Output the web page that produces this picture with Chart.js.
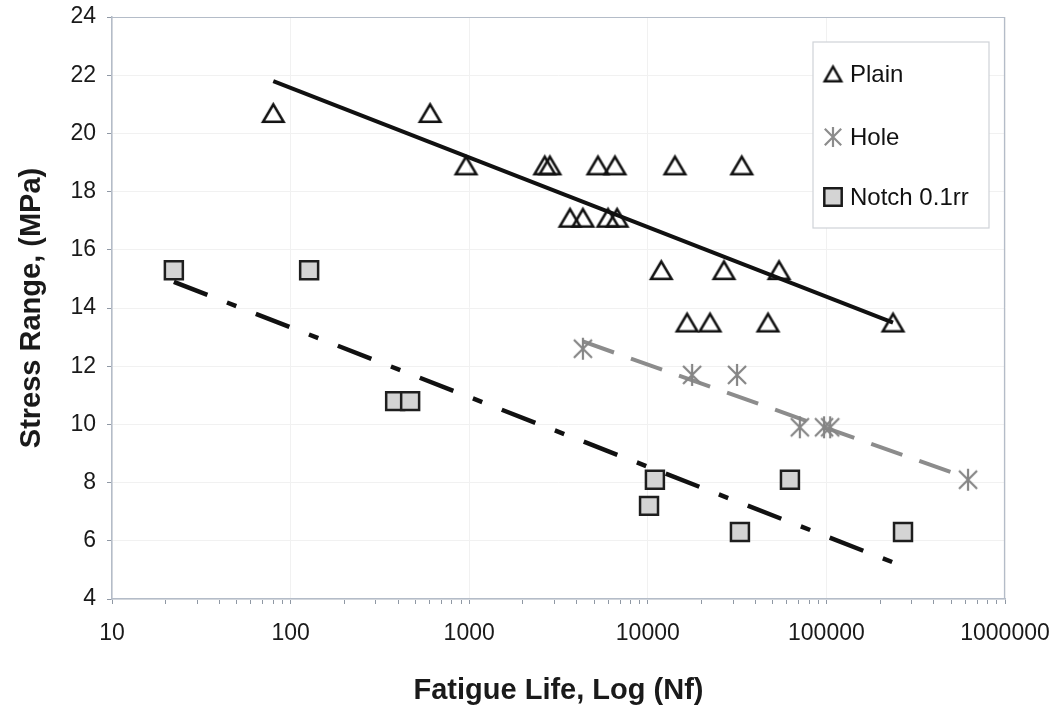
<!DOCTYPE html>
<html>
<head>
<meta charset="utf-8">
<title>Stress Range vs Fatigue Life</title>
<script src="https://cdn.jsdelivr.net/npm/chart.js@4.4.1/dist/chart.umd.min.js"></script>
<style>
  html, body { margin: 0; padding: 0; background: #ffffff; }
  #wrap { width: 1060px; height: 711px; }
</style>
</head>
<body>
<div id="wrap"><canvas id="snChart" width="1060" height="711"></canvas></div>
<script>
// Test results: cycles to failure (Nf) and applied stress range (MPa)
const plainLife   = [80, 604, 960, 2650, 2830, 5260, 6550, 14200, 33600, 3670, 4330, 5990, 6730, 11900, 26700, 54300, 16600, 22300, 47100, 236000];
const plainStress = [20.7, 20.7, 18.9, 18.9, 18.9, 18.9, 18.9, 18.9, 18.9, 17.1, 17.1, 17.1, 17.1, 15.3, 15.3, 15.3, 13.5, 13.5, 13.5, 13.5];

const holeLife   = [4330, 17700, 31600, 71000, 97000, 105000, 621000];
const holeStress = [12.6, 11.7, 11.7, 9.9, 9.9, 9.9, 8.1];

const notchLife   = [22.2, 127, 385, 467, 10960, 10160, 32800, 62500, 268500];
const notchStress = [15.3, 15.3, 10.8, 10.8, 8.1, 7.2, 6.3, 8.1, 6.3];

// Fitted S-N lines (end points)
const plainFitLife   = [80, 236000];
const plainFitStress = [21.8, 13.5];
const holeFitLife    = [4330, 621000];
const holeFitStress  = [12.85, 8.15];
const notchFitLife   = [22.2, 250000];
const notchFitStress = [14.9, 5.2];

const seriesNames = ['Plain', 'Hole', 'Notch 0.1rr'];
const lifeDecades = [10, 100, 1000, 10000, 100000, 1000000];

const FONT = "'Liberation Sans', Arial, Helvetica, sans-serif";
const AXIS_COLOR = '#b4bcc8';
const HOLE_GREY = '#858585';

Chart.defaults.font.family = FONT;
Chart.defaults.color = '#1a1a1a';

function toPoints(xs, ys) {
  return xs.map((x, i) => ({ x: x, y: ys[i] }));
}

// asterisk marker: X plus a vertical stroke
function makeAsterisk(size, color, lw) {
  const c = document.createElement('canvas');
  c.width = size; c.height = size;
  const g = c.getContext('2d');
  const h = size / 2;
  const r = h - 1;
  const d = r * 0.82;
  g.strokeStyle = color;
  g.lineWidth = lw;
  g.beginPath();
  g.moveTo(h, h - r); g.lineTo(h, h + r);
  g.moveTo(h - d, h - d); g.lineTo(h + d, h + d);
  g.moveTo(h + d, h - d); g.lineTo(h - d, h + d);
  g.stroke();
  return c;
}

// hollow triangle centred on its bounding box
function makeTriangle(w, h, color, lw) {
  const c = document.createElement('canvas');
  c.width = w + 4; c.height = h + 4;
  const g = c.getContext('2d');
  g.strokeStyle = color;
  g.lineWidth = lw;
  g.lineJoin = 'miter';
  g.beginPath();
  g.moveTo(c.width / 2, 2 + lw / 2);
  g.lineTo(c.width - 2 - lw / 2, c.height - 2 - lw / 2);
  g.lineTo(2 + lw / 2, c.height - 2 - lw / 2);
  g.closePath();
  g.stroke();
  return c;
}

const asteriskBig = makeAsterisk(24, HOLE_GREY, 2.2);
const asteriskSmall = makeAsterisk(22, '#8c8c8c', 2.2);
const triangleBig = makeTriangle(23, 20, '#111111', 2.6);
const triangleSmall = makeTriangle(19, 17, '#111111', 2.4);

// minor ticks 1..9 in every decade, the powers of ten flagged as major
function buildLifeTicks(scale) {
  const ticks = [];
  lifeDecades.forEach((d, i) => {
    if (i === lifeDecades.length - 1) {
      ticks.push({ value: d, major: true });
      return;
    }
    for (let k = 1; k < 10; k++) {
      ticks.push({ value: d * k, major: k === 1 });
    }
  });
  scale.ticks = ticks;
}

// light frame round the plot area
const plotFrame = {
  id: 'plotFrame',
  beforeDatasetsDraw(chart) {
    const a = chart.chartArea;
    const ctx = chart.ctx;
    ctx.save();
    ctx.strokeStyle = AXIS_COLOR;
    ctx.lineWidth = 1.2;
    ctx.beginPath();
    ctx.moveTo(a.left, a.top + 0.5);
    ctx.lineTo(a.right - 0.5, a.top + 0.5);
    ctx.lineTo(a.right - 0.5, a.bottom);
    ctx.stroke();
    ctx.restore();
  }
};

// boxed legend inside the plot, top right
const boxLegend = {
  id: 'boxLegend',
  afterDatasetsDraw(chart) {
    const a = chart.chartArea;
    const ctx = chart.ctx;
    const x0 = a.right - 192, y0 = a.top + 25, w = 176, h = 186;
    ctx.save();
    ctx.fillStyle = '#ffffff';
    ctx.fillRect(x0, y0, w, h);
    ctx.strokeStyle = '#cfd3d8';
    ctx.lineWidth = 1.2;
    ctx.strokeRect(x0, y0, w, h);

    const rows = [y0 + 32, y0 + 95, y0 + 155];
    const mx = x0 + 20;

    ctx.drawImage(triangleSmall, mx - triangleSmall.width / 2, rows[0] - triangleSmall.height / 2);
    ctx.drawImage(asteriskSmall, mx - 11, rows[1] - 11);

    ctx.strokeStyle = '#1a1a1a';
    ctx.fillStyle = '#d4d4d4';
    ctx.lineWidth = 2.5;
    Chart.helpers.drawPoint(ctx, { pointStyle: 'rect', radius: 12.3, rotation: 0, borderWidth: 2.5 }, mx, rows[2]);

    ctx.fillStyle = '#111111';
    ctx.font = '24px ' + FONT;
    ctx.textBaseline = 'middle';
    ctx.textAlign = 'left';
    seriesNames.forEach((name, i) => ctx.fillText(name, x0 + 37, rows[i] + 1));
    ctx.restore();
  }
};

const ctx = document.getElementById('snChart');
new Chart(ctx, {
  type: 'scatter',
  data: {
    datasets: [
      {
        label: seriesNames[0],
        data: toPoints(plainLife, plainStress),
        pointStyle: triangleBig,
        pointRadius: 12,
        borderColor: '#111111',
        backgroundColor: 'rgba(0,0,0,0)',
        order: 1
      },
      {
        label: seriesNames[1],
        data: toPoints(holeLife, holeStress),
        pointStyle: asteriskBig,
        pointRadius: 12,
        borderColor: HOLE_GREY,
        backgroundColor: HOLE_GREY,
        order: 1
      },
      {
        label: seriesNames[2],
        data: toPoints(notchLife, notchStress),
        pointStyle: 'rect',
        pointRadius: 12.7,
        pointBorderWidth: 2.5,
        borderColor: '#1e1e1e',
        backgroundColor: '#d4d4d4',
        order: 1
      },
      {
        label: 'Plain fit',
        type: 'line',
        data: toPoints(plainFitLife, plainFitStress),
        borderColor: '#111111',
        borderWidth: 4,
        pointRadius: 0,
        order: 2
      },
      {
        label: 'Hole fit',
        type: 'line',
        data: toPoints(holeFitLife, holeFitStress),
        borderColor: '#8c8c8c',
        borderWidth: 4,
        borderDash: [33, 18],
        pointRadius: 0,
        order: 2
      },
      {
        label: 'Notch fit',
        type: 'line',
        data: toPoints(notchFitLife, notchFitStress),
        borderColor: '#111111',
        borderWidth: 4.5,
        borderDash: [36, 21, 10, 21],
        pointRadius: 0,
        order: 2
      }
    ]
  },
  options: {
    responsive: false,
    animation: false,
    devicePixelRatio: 1,
    layout: { padding: { top: 17, right: 55, bottom: 0, left: 0 } },
    plugins: {
      legend: { display: false },
      tooltip: { enabled: false }
    },
    scales: {
      x: {
        type: 'logarithmic',
        min: 10,
        max: 1000000,
        afterBuildTicks: buildLifeTicks,
        afterFit(scale) {
          scale.height = 112;
          scale.paddingLeft = 0;
          scale.paddingRight = 0;
        },
        border: { color: AXIS_COLOR, width: 1.5 },
        grid: {
          color: c => (c.tick && c.tick.major) ? '#f1f1f1' : 'rgba(0,0,0,0)',
          tickColor: '#8f98a4',
          tickLength: 5
        },
        ticks: {
          autoSkip: false,
          maxRotation: 0,
          padding: 16,
          font: { size: 23 },
          color: '#1a1a1a',
          callback: v => lifeDecades.includes(v) ? String(v) : ''
        },
        title: {
          display: true,
          text: 'Fatigue Life, Log (Nf)',
          font: { size: 29, weight: 'bold' },
          color: '#1a1a1a',
          padding: { top: 0, bottom: 3 }
        }
      },
      y: {
        type: 'linear',
        min: 4,
        max: 24,
        afterFit(scale) {
          scale.width = 112;
          scale.paddingTop = 0;
          scale.paddingBottom = 0;
        },
        border: { color: AXIS_COLOR, width: 1.5 },
        grid: {
          color: '#f1f1f1',
          tickColor: '#8f98a4',
          tickLength: 5
        },
        ticks: {
          stepSize: 2,
          padding: 11,
          font: { size: 23 },
          color: '#1a1a1a'
        },
        title: {
          display: true,
          text: 'Stress Range, (MPa)',
          font: { size: 29, weight: 'bold' },
          color: '#1a1a1a',
          padding: { top: 15, bottom: 0 }
        }
      }
    }
  },
  plugins: [plotFrame, boxLegend]
});
</script>
</body>
</html>
